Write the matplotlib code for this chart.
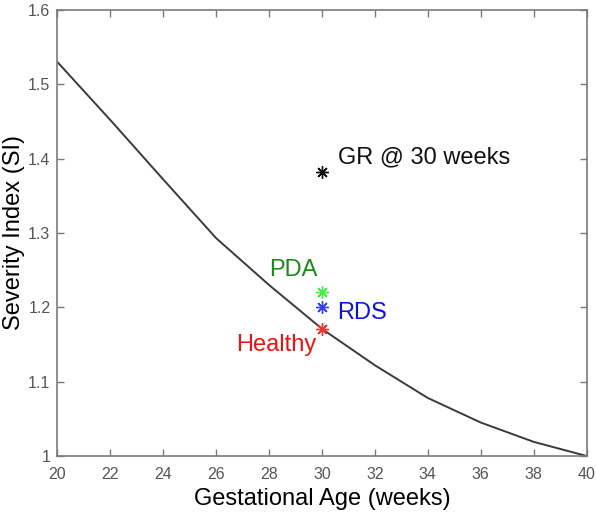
import matplotlib
matplotlib.use("Agg")
import matplotlib.pyplot as plt

plt.rcParams["font.family"] = ["Liberation Sans", "DejaVu Sans"]

# severity curve vs gestational age
ages = [20, 22, 24, 26, 28, 30, 32, 34, 36, 38, 40]
severity = [1.53, 1.452, 1.372, 1.293, 1.23, 1.171, 1.122, 1.078, 1.045, 1.019, 1.0]

# conditions at 30 weeks
cond_names = ["GR @ 30 weeks", "PDA", "RDS", "Healthy"]
cond_age = [30, 30, 30, 30]
cond_si = [1.382, 1.221, 1.200, 1.171]
marker_colors = ["#111111", "#44ee44", "#3344ee", "#ee3333"]
text_colors = ["#111111", "#1a8a1a", "#1010dd", "#ee1111"]
text_x = [30.6, 27.99, 30.56, 26.74]
text_y = [1.401, 1.250, 1.192, 1.149]

xticks = list(range(20, 41, 2))
yticks = [1, 1.1, 1.2, 1.3, 1.4, 1.5, 1.6]
ytick_labels = ["1", "1.1", "1.2", "1.3", "1.4", "1.5", "1.6"]

fig = plt.figure(figsize=(5.96, 5.12), dpi=100)
ax = fig.add_axes([0.0963, 0.1094, 0.888, 0.8711])

ax.plot(ages, severity, color="#3a3a3a", linewidth=1.4)

for a, s, c in zip(cond_age, cond_si, marker_colors):
    ax.plot(a, s, linestyle="none", marker=(8, 2, 0), markersize=9,
            markeredgewidth=1.0, color=c)

for name, tx, ty, tc in zip(cond_names, text_x, text_y, text_colors):
    ax.text(tx, ty, name, color=tc, fontsize=17, ha="left", va="center")

ax.set_xlim(20, 40)
ax.set_ylim(1, 1.6)
ax.set_xticks(xticks)
ax.set_yticks(yticks)
ax.set_yticklabels(ytick_labels)

gray = "#7a7a7a"
for sp in ax.spines.values():
    sp.set_color(gray)
    sp.set_linewidth(1.2)
ax.tick_params(direction="in", top=True, right=True, length=5, width=1.0,
               color=gray, labelcolor="#555555", labelsize=11.5)
ax.tick_params(axis="x", pad=8)
ax.tick_params(axis="y", pad=5)

ax.set_xlabel("Gestational Age (weeks)", fontsize=17, labelpad=4)
ax.set_ylabel("Severity Index (SI)", fontsize=17, labelpad=2)

fig.savefig("out.png", dpi=100)
